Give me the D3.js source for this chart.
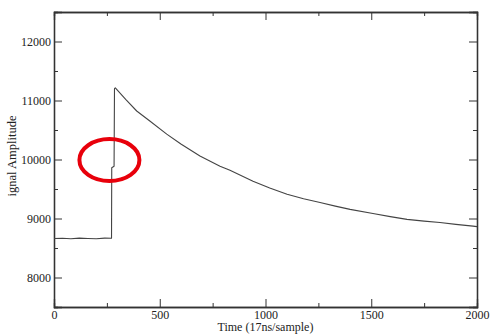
<!DOCTYPE html>
<html>
<head>
<meta charset="utf-8">
<script src="https://cdn.jsdelivr.net/npm/d3@7"></script>
<style>
  body { margin: 0; background: #fff; }
  #graf { width: 491px; height: 336px; }
  .eje path, .eje line { stroke: #333; }
</style>
</head>
<body>
<div id="graf"></div>
<script>
// Datos
tiempo = [0, 40, 80, 120, 160, 200, 240, 272, 273, 284, 286, 290, 340, 391, 450, 533, 600, 690,
          785, 832, 941, 1020, 1102, 1180, 1258, 1330, 1400, 1508, 1590, 1669, 1750, 1825, 1900, 1981, 2000]
amplitud = [8660, 8666, 8656, 8668, 8661, 8657, 8667, 8664, 9860, 9885, 11200, 11215, 11015, 10822, 10660, 10430, 10262, 10058,
            9886, 9817, 9632, 9517, 9410, 9335, 9271, 9210, 9155, 9085, 9032, 8985, 8955, 8932, 8900, 8870, 8862]

xMayores = [0, 500, 1000, 1500, 2000]
xMenores = [250, 750, 1250, 1750]
yMayores = [8000, 9000, 10000, 11000, 12000]
yMenores = [7500, 8500, 9500, 10500, 11500, 12500]

// Marca roja (centro en unidades de datos)
marca = { t: 262, v: 9990 }

fuente = "'Liberation Serif', 'Times New Roman', 'DejaVu Serif', serif"

// I. Configuracion
ancho_total = 491
alto_total = 336
margins = { top: 12, left: 54, right: 14, bottom: 29 }
ancho = ancho_total - margins.left - margins.right
alto = alto_total - margins.top - margins.bottom

svg = d3.select('#graf').append('svg')
        .attr('width', ancho_total)
        .attr('height', alto_total)

g = svg.append('g')
       .attr('transform', `translate(${margins.left}, ${margins.top})`)

x = d3.scaleLinear().domain([0, 2000]).range([0, ancho])
y = d3.scaleLinear().domain([7500, 12500]).range([alto, 0])

// II. Ejes (ticks hacia dentro)
function eje(fn, valores, largo, etiquetas) {
  return fn.tickValues(valores)
           .tickSize(-largo)
           .tickPadding(3)
           .tickFormat(etiquetas ? d3.format('d') : '')
}

g.append('g').attr('class', 'eje').attr('transform', `translate(0, ${alto})`)
  .call(eje(d3.axisBottom(x), xMayores, 8, true))
g.append('g').attr('class', 'eje').attr('transform', `translate(0, ${alto})`)
  .call(eje(d3.axisBottom(x), xMenores, 4, false))
g.append('g').attr('class', 'eje')
  .call(eje(d3.axisTop(x), xMayores, 8, false))
g.append('g').attr('class', 'eje')
  .call(eje(d3.axisTop(x), xMenores, 4, false))

g.append('g').attr('class', 'eje')
  .call(eje(d3.axisLeft(y), yMayores, 8, true))
g.append('g').attr('class', 'eje')
  .call(eje(d3.axisLeft(y), yMenores, 4, false))
g.append('g').attr('class', 'eje').attr('transform', `translate(${ancho}, 0)`)
  .call(eje(d3.axisRight(y), yMayores, 8, false))
g.append('g').attr('class', 'eje').attr('transform', `translate(${ancho}, 0)`)
  .call(eje(d3.axisRight(y), yMenores, 4, false))

g.selectAll('.eje').attr('font-family', fuente).attr('font-size', 12)
g.selectAll('.eje path').attr('stroke-width', 1.3)
g.selectAll('.eje text').attr('fill', '#222')

// III. Serie
linea = d3.line()
          .x((d, i) => x(tiempo[i]))
          .y(d => y(d))

g.append('path')
  .datum(amplitud)
  .attr('d', linea)
  .attr('fill', 'none')
  .attr('stroke', '#444')
  .attr('stroke-width', 1.1)
  .attr('stroke-linejoin', 'round')

// Elipse roja
g.append('ellipse')
  .attr('cx', x(marca.t))
  .attr('cy', y(marca.v))
  .attr('rx', 30)
  .attr('ry', 21)
  .attr('fill', 'none')
  .attr('stroke', '#e8000b')
  .attr('stroke-width', 4)

// Titulos
svg.append('text')
  .attr('x', margins.left + ancho / 2)
  .attr('y', 331)
  .attr('text-anchor', 'middle')
  .attr('font-family', fuente)
  .attr('font-size', 12)
  .attr('fill', '#222')
  .text('Time (17ns/sample)')

svg.append('text')
  .attr('transform', 'translate(16, 156) rotate(-90)')
  .attr('text-anchor', 'middle')
  .attr('font-family', fuente)
  .attr('font-size', 12.5)
  .attr('fill', '#222')
  .text('ignal Amplitude')
</script>
</body>
</html>
